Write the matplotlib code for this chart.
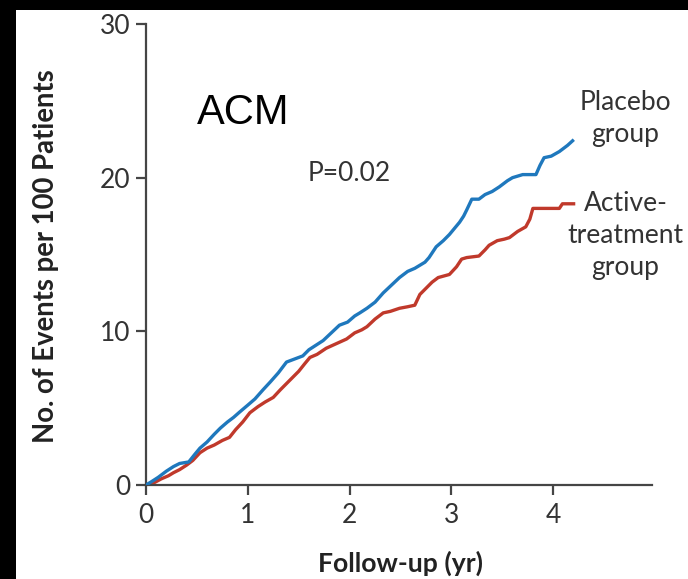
import matplotlib
matplotlib.use("Agg")
import matplotlib.pyplot as plt
from matplotlib.patches import Rectangle

# ---- data ----
placebo_t = [0.00, 0.05, 0.12, 0.20, 0.27, 0.33, 0.42, 0.48, 0.53, 0.60, 0.67, 0.73, 0.80, 0.86,
             0.92, 1.00, 1.07, 1.15, 1.22, 1.30, 1.38, 1.46, 1.54, 1.60, 1.67, 1.74, 1.82, 1.90,
             1.98, 2.05, 2.10, 2.17, 2.25, 2.33, 2.41, 2.49, 2.57, 2.64, 2.69, 2.74, 2.78, 2.85,
             2.92, 2.98, 3.03, 3.08, 3.12, 3.15, 3.20, 3.27, 3.33, 3.40, 3.47, 3.55, 3.60, 3.70,
             3.83, 3.87, 3.91, 3.98, 4.06, 4.10, 4.14, 4.19]
placebo_y = [0.0, 0.2, 0.5, 0.9, 1.2, 1.4, 1.5, 2.0, 2.4, 2.8, 3.3, 3.7, 4.1, 4.4,
             4.75, 5.2, 5.6, 6.2, 6.7, 7.3, 8.0, 8.2, 8.4, 8.8, 9.1, 9.4, 9.9, 10.4,
             10.6, 11.0, 11.2, 11.5, 11.9, 12.5, 13.0, 13.5, 13.9, 14.1, 14.3, 14.5, 14.8, 15.5,
             15.9, 16.3, 16.7, 17.1, 17.5, 17.9, 18.6, 18.6, 18.9, 19.1, 19.4, 19.8, 20.0, 20.2,
             20.2, 20.8, 21.3, 21.4, 21.7, 21.9, 22.1, 22.4]

active_t = [0.00, 0.08, 0.15, 0.22, 0.27, 0.33, 0.40, 0.46, 0.53, 0.60, 0.67, 0.75, 0.82, 0.88,
            0.95, 1.02, 1.10, 1.17, 1.25, 1.32, 1.38, 1.44, 1.50, 1.56, 1.61, 1.68, 1.77, 1.87,
            1.97, 2.05, 2.12, 2.17, 2.25, 2.33, 2.40, 2.49, 2.57, 2.64, 2.69, 2.75, 2.81, 2.87,
            2.98, 3.05, 3.10, 3.15, 3.27, 3.33, 3.37, 3.45, 3.52, 3.57, 3.65, 3.73, 3.77, 3.80,
            3.95, 4.06, 4.09, 4.20]
active_y = [0.0, 0.15, 0.4, 0.6, 0.8, 1.0, 1.3, 1.6, 2.1, 2.4, 2.6, 2.9, 3.1, 3.6,
            4.1, 4.7, 5.1, 5.4, 5.7, 6.2, 6.6, 7.0, 7.4, 7.9, 8.3, 8.5, 8.9, 9.2,
            9.5, 9.9, 10.1, 10.3, 10.8, 11.2, 11.3, 11.5, 11.6, 11.7, 12.4, 12.8, 13.2, 13.5,
            13.7, 14.2, 14.7, 14.8, 14.9, 15.3, 15.6, 15.9, 16.0, 16.1, 16.5, 16.8, 17.3, 18.0,
            18.0, 18.0, 18.3, 18.3]

x_ticks = [0, 1, 2, 3, 4]
y_ticks = [0, 10, 20, 30]

BLUE = "#1f78bd"
RED = "#c0392b"
AXC = "#454545"
TXT = "#333333"
FONT = "Lato"
FS = 19

W, H = 688, 579
fig = plt.figure(figsize=(W / 100, H / 100), dpi=100, facecolor="white")
# black strips on top and left like the reference
fig.patches.append(Rectangle((0, 1 - 10 / H), 1, 10 / H, transform=fig.transFigure,
                             facecolor="black", edgecolor="none"))
fig.patches.append(Rectangle((0, 0), 16 / W, 1, transform=fig.transFigure,
                             facecolor="black", edgecolor="none"))

ax = fig.add_axes([146 / W, 94 / H, 506 / W, 461 / H])
ax.set_facecolor("none")

ax.plot(placebo_t, placebo_y, color=BLUE, lw=2.4, zorder=3)
ax.plot(active_t, active_y, color=RED, lw=2.4, zorder=2)

ax.set_xlim(0, 4.97)
ax.set_ylim(0, 30)
ax.set_xticks(x_ticks)
ax.set_yticks(y_ticks)
ax.set_xticklabels([str(v) for v in x_ticks], fontname=FONT, fontsize=FS, color=TXT)
ax.set_yticklabels([str(v) for v in y_ticks], fontname=FONT, fontsize=FS, color=TXT)

for s in ["top", "right"]:
    ax.spines[s].set_visible(False)
for s in ["left", "bottom"]:
    ax.spines[s].set_color(AXC)
    ax.spines[s].set_linewidth(1.6)
ax.tick_params(axis="both", direction="out", length=7, width=1.6, color=AXC)
ax.tick_params(axis="x", pad=6)
ax.tick_params(axis="y", pad=4)

# annotations
ax.text(0.5, 23.5, "ACM", fontname="Liberation Sans", fontsize=30, color="black",
        ha="left", va="baseline")
ax.text(1.59, 19.8, "P=0.02", fontname=FONT, fontsize=FS, color=TXT,
        ha="left", va="baseline")

lx = 4.71
for txt, yy in [("Placebo", 24.4), ("group", 22.3),
                ("Active-", 17.85), ("treatment", 15.76), ("group", 13.66)]:
    ax.text(lx, yy, txt, fontname=FONT, fontsize=FS, color=TXT,
            ha="center", va="baseline", clip_on=False)

fig.text(46 / W, 1 - 256 / H, "No. of Events per 100 Patients", fontname=FONT,
         fontweight="bold", fontsize=19.8, color="#222222", rotation=90,
         ha="center", va="center")
fig.text(400 / W, 1 - 563 / H, "Follow-up (yr)", fontname=FONT,
         fontweight="bold", fontsize=19.2, color="#222222", ha="center", va="center")

fig.savefig("out.png", dpi=100)
